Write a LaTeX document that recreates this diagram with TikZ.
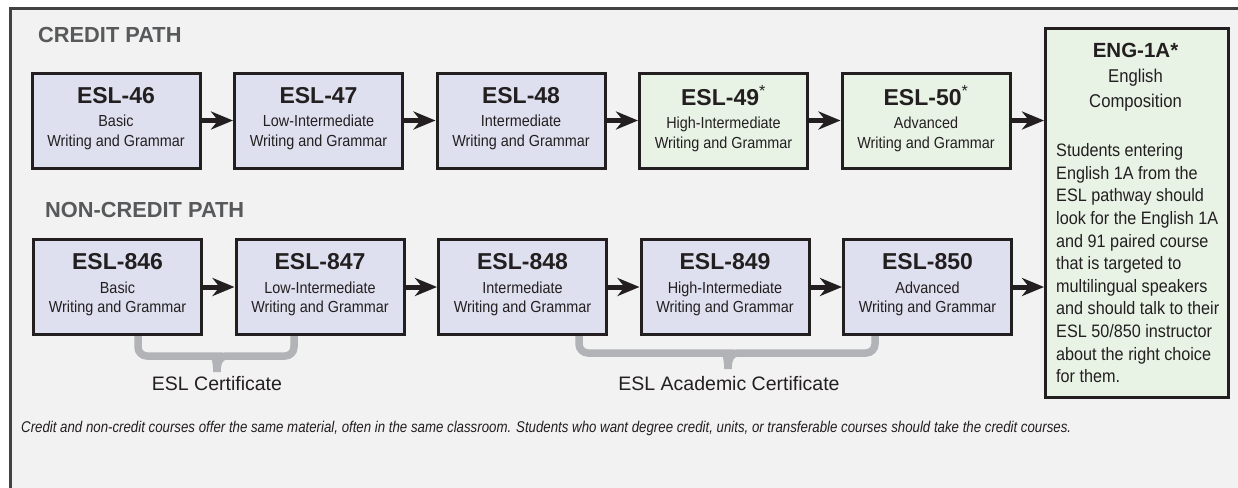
\documentclass[tikz,border=0pt]{standalone}
\usepackage{fontspec}
\setmainfont{Liberation Sans}
\newfontfamily\narrowfont{Liberation Sans}[FakeStretch=0.9]
\newfontfamily\notefont{Liberation Sans}[FakeStretch=0.85]
\usetikzlibrary{arrows.meta,positioning}
\definecolor{ink}{RGB}{35,31,32}
\definecolor{head}{RGB}{88,89,91}
\definecolor{paper}{RGB}{242,242,242}
\definecolor{lav}{RGB}{223,224,239}
\definecolor{mint}{RGB}{232,243,230}
\definecolor{brk}{RGB}{177,179,182}
\tikzstyle{course} = [rectangle, draw=ink, line width=3pt, fill=lav,
  minimum width=168pt, minimum height=95pt, align=center, text=ink,
  text depth=7.5pt, font=\narrowfont\fontsize{16}{19.5}\selectfont]
\tikzstyle{transfer} = [course, fill=mint]
\tikzstyle{arrow} = [-{Stealth[length=22pt,width=18pt,inset=7pt]}, line width=5pt, draw=ink]
\tikzstyle{brace} = [line width=7.5pt, draw=brk, rounded corners=9pt]
\tikzstyle{pathhead} = [font=\bfseries\fontsize{21.8}{24}\selectfont, text=head, anchor=base west, inner sep=0pt]
\tikzstyle{certlabel} = [font=\fontsize{19.5}{22}\selectfont, text=ink, inner sep=0pt]
% course number on the first line of a box
\newcommand{\crs}[1]{{\rmfamily\bfseries\fontsize{23}{24}\selectfont #1}\\[4pt]}
\newcommand{\reqmark}{\textsuperscript{\mdseries *}}

\begin{document}
\begin{tikzpicture}[x=1pt, y=-1pt,
    node distance=202.5pt, % centre to centre of two boxes in a row
  ]
  \clip (0,0) rectangle (1238,487);
  \fill[paper] (10,9) rectangle (1260,500);
  \draw[ink!85, line width=3pt] (10,500) -- (10,9) -- (1260,9);

  \node[pathhead] (credit)    at (38,43)  {CREDIT PATH};
  \node[pathhead] (noncredit) at (45,217) {NON-CREDIT PATH};

  % credit row
  \node[course]               (46) at (116,120.5) {\crs{ESL-46}Basic\\Writing and Grammar};
  \node[course, right of=46]  (47) {\crs{ESL-47}Low-Intermediate\\Writing and Grammar};
  \node[course, right of=47]  (48) {\crs{ESL-48}Intermediate\\Writing and Grammar};
  \node[transfer, right of=48](49) {\crs{ESL-49\reqmark}High-Intermediate\\Writing and Grammar};
  \node[transfer, right of=49](50) {\crs{ESL-50\reqmark}Advanced\\Writing and Grammar};

  % non-credit row
  \node[course]                (846) at (117.5,287) {\crs{ESL-846}Basic\\Writing and Grammar};
  \node[course, right of=846]  (847) {\crs{ESL-847}Low-Intermediate\\Writing and Grammar};
  \node[course, right of=847]  (848) {\crs{ESL-848}Intermediate\\Writing and Grammar};
  \node[course, right of=848]  (849) {\crs{ESL-849}High-Intermediate\\Writing and Grammar};
  \node[course, right of=849]  (850) {\crs{ESL-850}Advanced\\Writing and Grammar};

  % english composition
  \node[transfer, minimum width=183pt, minimum height=369pt, anchor=north west] (eng) at (1044,27) {};
  \node[anchor=north, align=center, inner sep=0pt, text=ink,
        font=\narrowfont\fontsize{18.5}{25}\selectfont] (engtitle) at (1135.5,43)
        {{\rmfamily\bfseries\fontsize{20.5}{24}\selectfont ENG-1A*}\\English\\Composition};
  \node[anchor=north west, align=left, inner sep=0pt, text=ink,
        font=\narrowfont\fontsize{18}{22.6}\selectfont] (engnote) at (1056,143.5)
        {Students entering\\English 1A from the\\ESL pathway should\\look for the English 1A\\
         and 91 paired course\\that is targeted to\\multilingual speakers\\
         and should talk to their\\ESL 50/850 instructor\\about the right choice\\for them.};

  \draw[arrow] (46) -- (47);
  \draw[arrow] (47) -- (48);
  \draw[arrow] (48) -- (49);
  \draw[arrow] (49) -- (50);
  \draw[arrow] (50) -- (50 -| eng.west);

  \draw[arrow] (846) -- (847);
  \draw[arrow] (847) -- (848);
  \draw[arrow] (848) -- (849);
  \draw[arrow] (849) -- (850);
  \draw[arrow] (850) -- (850 -| eng.west);

  % certificate braces
  \draw[brace] (138,336) -- (138,356) -- (207,356) [sharp corners]
    .. controls (214,356) and (217,362) .. (217,372)
    .. controls (217,362) and (220,356) .. (227,356) [rounded corners=9pt]
    -- (294,356) -- (294,336);
  \draw[brace] (579,336) -- (579,353) -- (718,353) [sharp corners]
    .. controls (725,353) and (728,359) .. (728,369)
    .. controls (728,359) and (731,353) .. (738,353) [rounded corners=9pt]
    -- (875,353) -- (875,336);
  \node[certlabel] (cert)     at (217,384) {ESL Certificate};
  \node[certlabel] (academic) at (729,384) {ESL Academic Certificate};

  \node[anchor=base west, inner sep=0pt, text=ink,
        font=\notefont\itshape\fontsize{15.6}{16}\selectfont] (note) at (21,432)
        {Credit and non-credit courses offer the same material, often in the same classroom. Students who want degree credit, units, or transferable courses should take the credit courses.};
\end{tikzpicture}
\end{document}
